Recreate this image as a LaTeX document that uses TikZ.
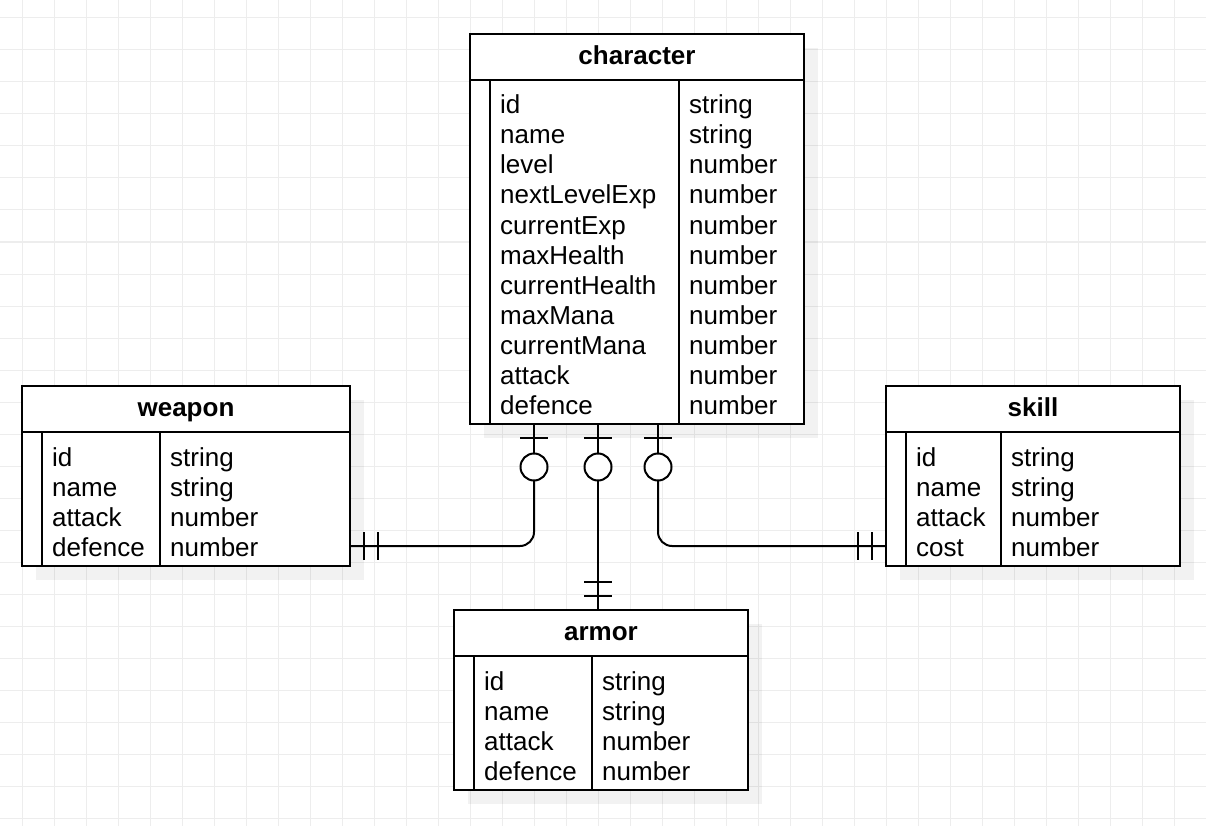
\documentclass[tikz,border=0pt]{standalone}
\usepackage{fontspec}
\setmainfont{Liberation Sans}
\usetikzlibrary{calc}

\tikzset{
    gridline/.style={draw=black!7, line width=1pt},
    shadowbox/.style={fill=black, opacity=0.05},
    tablehead/.style={draw, line width=2pt, fill=white, anchor=north west, inner sep=0pt, outer sep=0pt,
        text height=18pt, text depth=3pt, font=\fontsize{26}{30}\selectfont\bfseries},
    tablebody/.style={draw, line width=2pt, fill=white, anchor=north west, inner sep=0pt, outer sep=0pt},
    fieldtext/.style={anchor=base west, inner sep=0pt, font=\fontsize{26}{30}\selectfont},
    conn/.style={line width=2pt},
    optring/.style={circle, draw, line width=2pt, fill=white, minimum size=27pt, inner sep=0pt, outer sep=0pt},
}

\begin{document}
\begin{tikzpicture}[x=1pt, y=-1pt]
    \useasboundingbox (0,0) rectangle (1206,826);

    % background grid
    \foreach \gx in {22,54,...,1206} \draw[gridline] (\gx,0) -- (\gx,826);
    \foreach \gy in {18,50,...,826} \draw[gridline] (0,\gy) -- (1206,\gy);

    % shadows
    \fill[shadowbox] (484,48) rectangle (818,438);
    \fill[shadowbox] (36,400) rectangle (364,580);
    \fill[shadowbox] (900,400) rectangle (1194,580);
    \fill[shadowbox] (468,624) rectangle (762,804);

    % character
    \node[tablehead, minimum width=334pt, minimum height=46pt] (charhead) at (470,34) {character};
    \node[tablebody, minimum width=334pt, minimum height=344pt] (charbody) at (charhead.south west) {};
    \draw[conn] ($(charbody.north west)+(20,0)$) -- ($(charbody.south west)+(20,0)$);
    \draw[conn] ($(charbody.north west)+(209,0)$) -- ($(charbody.south west)+(209,0)$);
    \foreach \f/\t [count=\i] in {id/string, name/string, level/number, nextLevelExp/number,
        currentExp/number, maxHealth/number, currentHealth/number, maxMana/number,
        currentMana/number, attack/number, defence/number} {
        \node[fieldtext] (charf\i) at (500, 84+30*\i) {\f};
        \node[fieldtext] (chart\i) at (689, 84+30*\i) {\t};
    }

    % weapon
    \node[tablehead, minimum width=328pt, minimum height=46pt] (weaponhead) at (22,386) {weapon};
    \node[tablebody, minimum width=328pt, minimum height=134pt] (weaponbody) at (weaponhead.south west) {};
    \draw[conn] ($(weaponbody.north west)+(20,0)$) -- ($(weaponbody.south west)+(20,0)$);
    \draw[conn] ($(weaponbody.north west)+(138,0)$) -- ($(weaponbody.south west)+(138,0)$);
    \foreach \f/\t [count=\i] in {id/string, name/string, attack/number, defence/number} {
        \node[fieldtext] (weaponf\i) at (52, 436+30*\i) {\f};
        \node[fieldtext] (weapont\i) at (170, 436+30*\i) {\t};
    }

    % skill
    \node[tablehead, minimum width=294pt, minimum height=46pt] (skillhead) at (886,386) {skill};
    \node[tablebody, minimum width=294pt, minimum height=134pt] (skillbody) at (skillhead.south west) {};
    \draw[conn] ($(skillbody.north west)+(20,0)$) -- ($(skillbody.south west)+(20,0)$);
    \draw[conn] ($(skillbody.north west)+(115,0)$) -- ($(skillbody.south west)+(115,0)$);
    \foreach \f/\t [count=\i] in {id/string, name/string, attack/number, cost/number} {
        \node[fieldtext] (skillf\i) at (916, 436+30*\i) {\f};
        \node[fieldtext] (skillt\i) at (1011, 436+30*\i) {\t};
    }

    % armor
    \node[tablehead, minimum width=294pt, minimum height=46pt] (armorhead) at (454,610) {armor};
    \node[tablebody, minimum width=294pt, minimum height=134pt] (armorbody) at (armorhead.south west) {};
    \draw[conn] ($(armorbody.north west)+(20,0)$) -- ($(armorbody.south west)+(20,0)$);
    \draw[conn] ($(armorbody.north west)+(138,0)$) -- ($(armorbody.south west)+(138,0)$);
    \foreach \f/\t [count=\i] in {id/string, name/string, attack/number, defence/number} {
        \node[fieldtext] (armorf\i) at (484, 660+30*\i) {\f};
        \node[fieldtext] (armort\i) at (602, 660+30*\i) {\t};
    }

    % relations
    \coordinate (wpin) at ($(weaponbody.north east)+(0,114)$);
    \coordinate (spin) at ($(skillbody.north west)+(0,114)$);
    \coordinate (apin) at ($(armorhead.north west)+(144,0)$);

    \node[optring] (ring1) at ($(charbody.south west)+(64,43)$) {};
    \node[optring] (ring2) at ($(charbody.south west)+(128,43)$) {};
    \node[optring] (ring3) at ($(charbody.south west)+(188,43)$) {};

    \draw[conn] ($(charbody.south west)+(64,0)$) -- (ring1.north);
    \draw[conn, rounded corners=14pt] (ring1.south) |- (wpin);
    \draw[conn] ($(charbody.south west)+(128,0)$) -- (ring2.north);
    \draw[conn] (ring2.south) -- (apin);
    \draw[conn] ($(charbody.south west)+(188,0)$) -- (ring3.north);
    \draw[conn, rounded corners=14pt] (ring3.south) |- (spin);

    % one side bars
    \draw[conn] ($(charbody.south west)+(50,14)$) -- ++(28,0);
    \draw[conn] ($(charbody.south west)+(114,14)$) -- ++(28,0);
    \draw[conn] ($(charbody.south west)+(174,14)$) -- ++(28,0);

    % many side bars
    \draw[conn] ($(wpin)+(14,-14)$) -- ++(0,28);
    \draw[conn] ($(wpin)+(28,-14)$) -- ++(0,28);
    \draw[conn] ($(spin)+(-14,-14)$) -- ++(0,28);
    \draw[conn] ($(spin)+(-28,-14)$) -- ++(0,28);
    \draw[conn] ($(apin)+(-14,-14)$) -- ++(28,0);
    \draw[conn] ($(apin)+(-14,-28)$) -- ++(28,0);
\end{tikzpicture}
\end{document}
